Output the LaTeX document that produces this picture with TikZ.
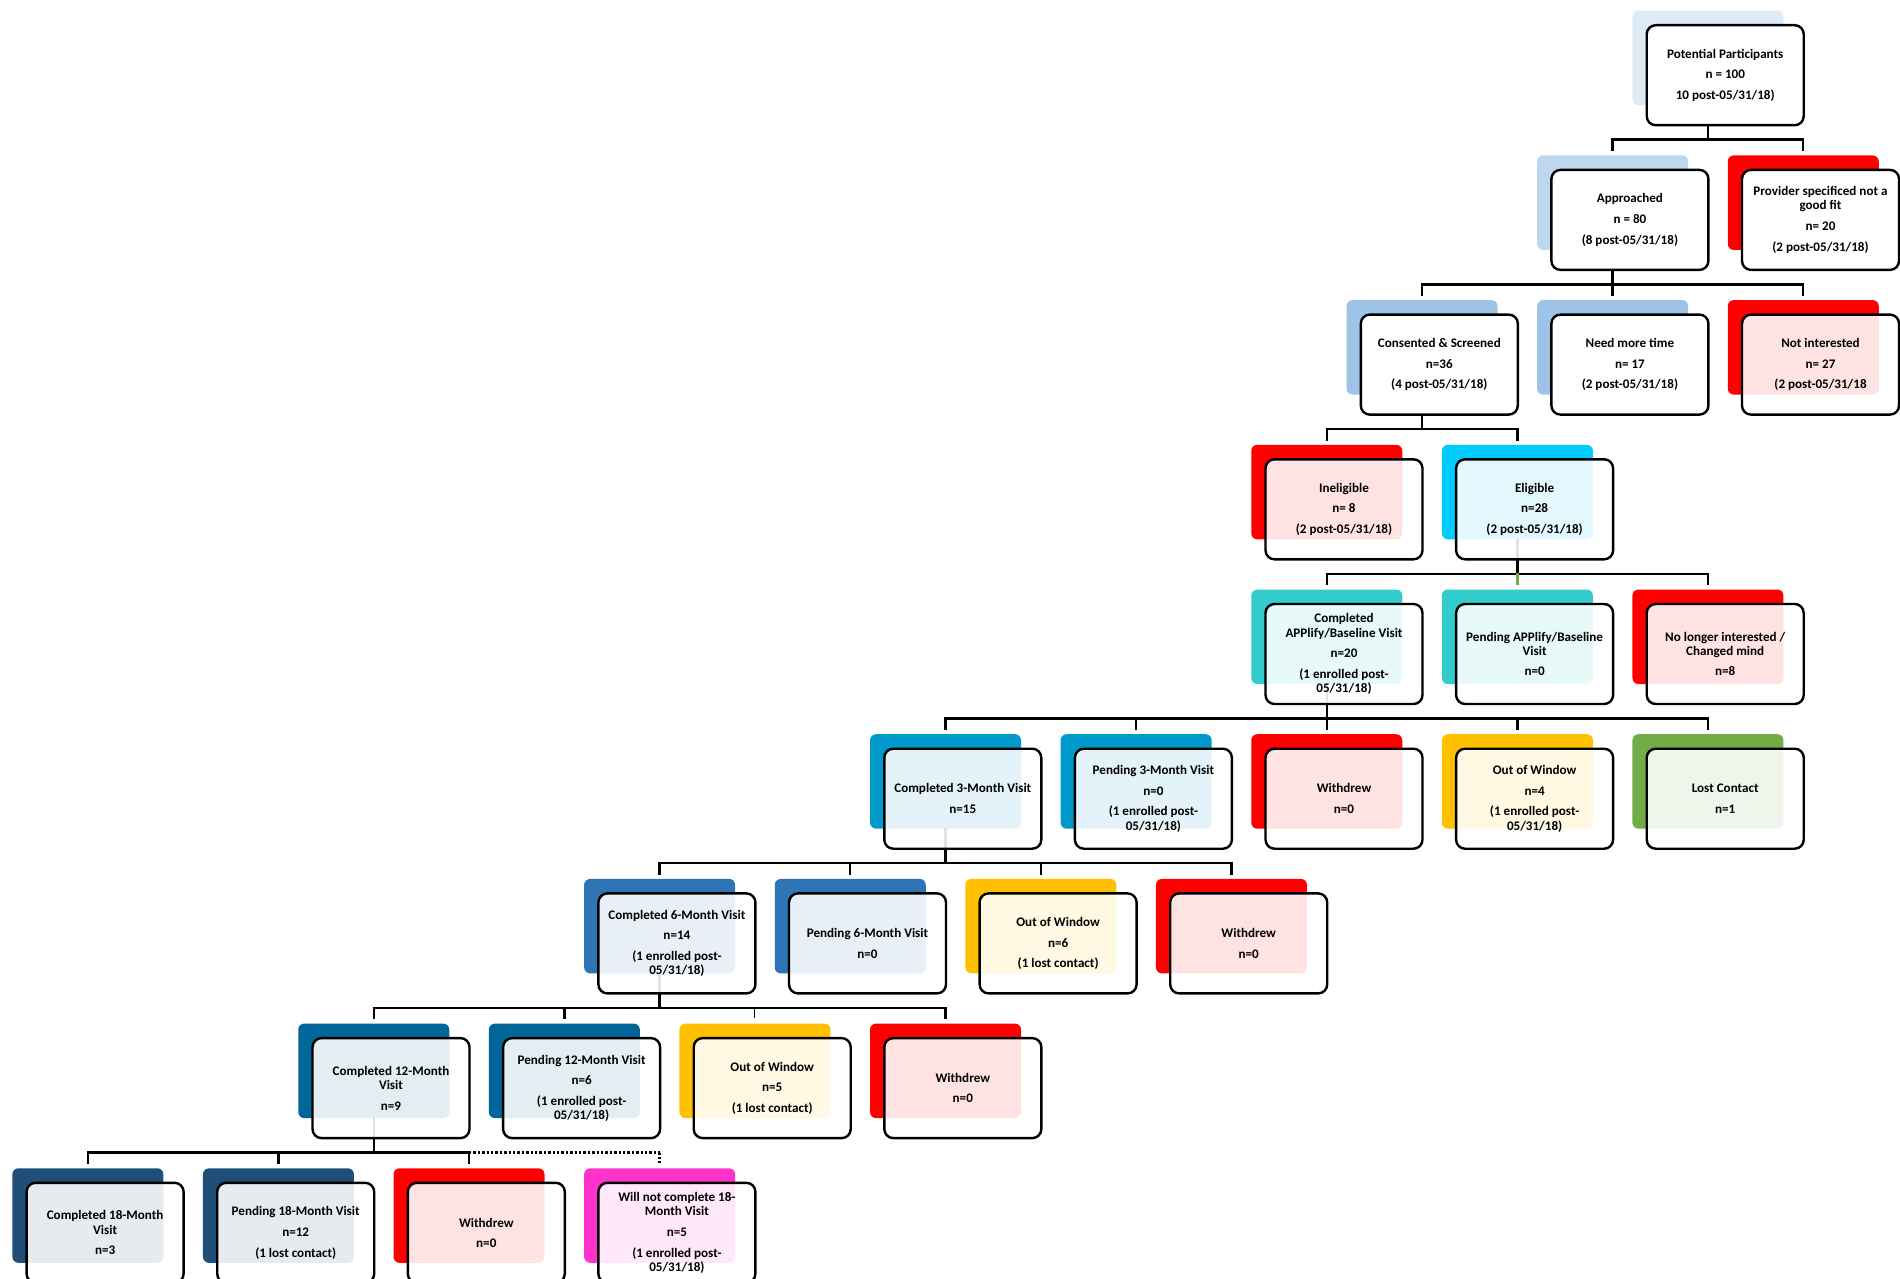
\documentclass[tikz,border=0pt]{standalone}
\usepackage{fontspec}
\setmainfont{Carlito}
\pgfdeclarelayer{bg}
\pgfdeclarelayer{mid}
\pgfsetlayers{bg,mid,main}

% back-panel colours
\definecolor{cPot}{HTML}{DEEBF7}
\definecolor{cAppr}{HTML}{BDD7EE}
\definecolor{cCons}{HTML}{9DC3E6}
\definecolor{cRed}{HTML}{FF0000}
\definecolor{cElig}{HTML}{00CCFF}
\definecolor{cTeal}{HTML}{33CCCC}
\definecolor{cThree}{HTML}{0099CC}
\definecolor{cYel}{HTML}{FFC000}
\definecolor{cGreen}{HTML}{70AD47}
\definecolor{cSix}{HTML}{2E75B6}
\definecolor{cTwelve}{HTML}{006699}
\definecolor{cEight}{HTML}{1F4E79}
\definecolor{cPink}{HTML}{FF33CC}

\tikzset{
  backbox/.style={rectangle, rounded corners=3pt, minimum width=75.5pt,
    minimum height=47.25pt, inner sep=0pt, draw=none},
  frontbox/.style={rectangle, rounded corners=4.5pt, draw=black, line width=1.2pt,
    fill=white, minimum width=78.5pt, minimum height=50pt, inner sep=0pt,
    align=center, font=\fontsize{6.55}{7.1}\selectfont\bfseries},
  conn/.style={draw=black, line width=1.2pt, line cap=rect},
  thinconn/.style={draw=black, line width=0.5pt},
  dotconn/.style={draw=black, line width=1.2pt, densely dotted},
}

% a coloured panel with a framed, partly see-through card over it
% #1 name, #2 column, #3 row, #4 panel colour, #5 card opacity, #6 text
\newcommand\flowbox[6]{%
  \pgfmathsetmacro\fbL{26.6+95.3*#2}%
  \pgfmathsetmacro\fbT{24.2+144.7*(#3-1)}%
  \begin{pgfonlayer}{bg}
    \node[backbox, fill=#4] (b#1) at (\fbL+61.25,\fbT+33.75) {};
  \end{pgfonlayer}
  \node[frontbox, fill opacity=#5, text opacity=1] (#1) at (\fbL+78.5,\fbT+51) {#6};
}
% vertical drop from a parent down to its bus
\newcommand\busline[3]{%
  \coordinate (bus#1) at ([yshift=-17pt]b#1.south);
  \draw[conn] (b#1.south) -- (bus#1);
  \draw[conn] (b#2 |- bus#1) -- (b#3 |- bus#1);
}
\newcommand\drop[3][conn]{%
  \draw[#1] (b#3 |- bus#2) -- ([yshift=2.5pt]b#3.north);
}
\newcommand\gap{\\[3.2pt]}

\begin{document}
\begin{tikzpicture}[x=0.5pt,y=-0.5pt]
\useasboundingbox (0,0) rectangle (1900,1279);

% row 1
\flowbox{pot}{17}{1}{cPot}{1}{Potential Participants\gap n = 100\gap 10 post-05/31/18)}
% row 2
\flowbox{appr}{16}{2}{cAppr}{1}{Approached\gap n = 80\gap (8 post-05/31/18)}
\flowbox{prov}{18}{2}{cRed}{1}{Provider specificed not a\\good fit\gap n= 20\gap (2 post-05/31/18)}
% row 3
\flowbox{cons}{14}{3}{cCons}{1}{Consented \& Screened\gap n=36\gap (4 post-05/31/18)}
\flowbox{more}{16}{3}{cCons}{1}{Need more time\gap n= 17\gap (2 post-05/31/18)}
\flowbox{notint}{18}{3}{cRed}{0.89}{Not interested\gap n= 27\gap (2 post-05/31/18}
% row 4
\flowbox{inel}{13}{4}{cRed}{0.89}{Ineligible\gap n= 8\gap (2 post-05/31/18)}
\flowbox{elig}{15}{4}{cElig}{0.89}{Eligible\gap n=28\gap (2 post-05/31/18)}
% row 5
\flowbox{capp}{13}{5}{cTeal}{0.89}{Completed\\APPlify/Baseline Visit\gap n=20\gap (1 enrolled post-\\05/31/18)}
\flowbox{papp}{15}{5}{cTeal}{0.89}{Pending APPlify/Baseline\\Visit\gap n=0}
\flowbox{nolonger}{17}{5}{cRed}{0.89}{No longer interested /\\Changed mind\gap n=8}
% row 6
\flowbox{cthree}{9}{6}{cThree}{0.89}{Completed 3-Month Visit\gap n=15}
\flowbox{pthree}{11}{6}{cThree}{0.89}{Pending 3-Month Visit\gap n=0\gap (1 enrolled post-\\05/31/18)}
\flowbox{wthree}{13}{6}{cRed}{0.89}{Withdrew\gap n=0}
\flowbox{othree}{15}{6}{cYel}{0.89}{Out of Window\gap n=4\gap (1 enrolled post-\\05/31/18)}
\flowbox{lthree}{17}{6}{cGreen}{0.89}{Lost Contact\gap n=1}
% row 7
\flowbox{csix}{6}{7}{cSix}{0.89}{Completed 6-Month Visit\gap n=14\gap (1 enrolled post-\\05/31/18)}
\flowbox{psix}{8}{7}{cSix}{0.89}{Pending 6-Month Visit\gap n=0}
\flowbox{osix}{10}{7}{cYel}{0.89}{Out of Window\gap n=6\gap (1 lost contact)}
\flowbox{wsix}{12}{7}{cRed}{0.89}{Withdrew\gap n=0}
% row 8
\flowbox{ctwelve}{3}{8}{cTwelve}{0.89}{Completed 12-Month\\Visit\gap n=9}
\flowbox{ptwelve}{5}{8}{cTwelve}{0.89}{Pending 12-Month Visit\gap n=6\gap (1 enrolled post-\\05/31/18)}
\flowbox{otwelve}{7}{8}{cYel}{0.89}{Out of Window\gap n=5\gap (1 lost contact)}
\flowbox{wtwelve}{9}{8}{cRed}{0.89}{Withdrew\gap n=0}
% row 9
\flowbox{ceight}{0}{9}{cEight}{0.89}{Completed 18-Month\\Visit\gap n=3}
\flowbox{peight}{2}{9}{cEight}{0.89}{Pending 18-Month Visit\gap n=12\gap (1 lost contact)}
\flowbox{weight}{4}{9}{cRed}{0.89}{Withdrew\gap n=0}
\flowbox{neight}{6}{9}{cPink}{0.89}{Will not complete 18-\\Month Visit\gap n=5\gap (1 enrolled post-\\05/31/18)}

% connectors
\begin{pgfonlayer}{mid}
  \busline{pot}{appr}{prov}
  \drop{pot}{appr} \drop{pot}{prov}

  \busline{appr}{cons}{notint}
  \drop{appr}{cons} \drop{appr}{more} \drop{appr}{notint}

  \busline{cons}{inel}{elig}
  \drop{cons}{inel} \drop{cons}{elig}

  \busline{elig}{capp}{nolonger}
  \drop{elig}{capp} \drop[conn,draw=cGreen]{elig}{papp} \drop{elig}{nolonger}

  \busline{capp}{cthree}{lthree}
  \drop{capp}{cthree} \drop{capp}{pthree} \drop{capp}{wthree}
  \drop{capp}{othree} \drop{capp}{lthree}

  \busline{cthree}{csix}{wsix}
  \drop{cthree}{csix} \drop{cthree}{psix} \drop{cthree}{osix} \drop{cthree}{wsix}

  \busline{csix}{ctwelve}{wtwelve}
  \drop{csix}{ctwelve} \drop{csix}{ptwelve} \drop[thinconn]{csix}{otwelve}
  \drop{csix}{wtwelve}

  \busline{ctwelve}{ceight}{weight}
  \drop{ctwelve}{ceight} \drop{ctwelve}{peight} \drop{ctwelve}{weight}
  \draw[dotconn] (bweight |- busctwelve) -- (bneight |- busctwelve);
  \drop[dotconn]{ctwelve}{neight}
\end{pgfonlayer}
\end{tikzpicture}
\end{document}
